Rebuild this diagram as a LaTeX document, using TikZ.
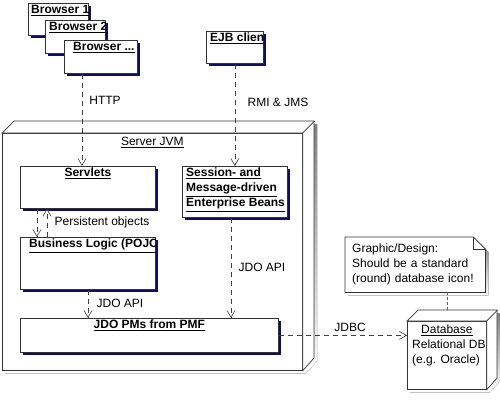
\documentclass[tikz,border=0pt]{standalone}
\usepackage{fontspec}
\setmainfont{Liberation Sans}
\usetikzlibrary{arrows.meta,positioning,shadows,backgrounds}
\definecolor{shade}{RGB}{14,14,104}
\definecolor{notelink}{RGB}{176,40,176}

\begin{document}
\begin{tikzpicture}[
    x=1pt,y=-1pt,font=\fontsize{12}{15}\selectfont,
    object/.style={draw=black!80,line width=.7pt,fill=white,anchor=north west,
        inner sep=0pt,general shadow={fill=shade,shadow xshift=3pt,shadow yshift=-3pt}},
    frame/.style={draw=black!80,line width=.7pt,fill=white,anchor=north west,inner sep=0pt},
    face/.style={draw=black!80,line width=.7pt,fill=white},
    title/.style={font=\fontsize{12}{15}\selectfont\bfseries,inner sep=0pt,anchor=north west},
    plain/.style={inner sep=0pt,anchor=north west,align=left},
    flow/.style={draw=black!75,line width=.6pt,dash pattern=on 5pt off 4pt,
        -{Straight Barb[length=7pt,width=8pt]}},
    flow label/.style={inner sep=0pt,anchor=base},
    note link/.style={draw=notelink,line width=.6pt,dash pattern=on 3pt off 2pt}
]
    \useasboundingbox (0,0) rectangle (500,400);

    % Clients, each title cut off at the right edge of its box.
    \foreach \obj/\x/\y/\w/\h/\tx/\str in {browserA/28/3/60/32/3/Browser 1,
        browserB/45/20/60/33/4/Browser 2,browserC/64/40/73/33/9/Browser .{}.{}.,
        ejb/206/31/57/32/4/EJB client} {
        \node[object,minimum width=\w pt,minimum height=\h pt] (\obj) at (\x,\y) {};
        \begin{scope}
            \clip (\obj.north west) rectangle (\obj.south east);
            \node[title] (\obj title) at ([xshift=\tx pt,yshift=-2pt]\obj.north west) {\underline{\str}};
        \end{scope}
    }

    % Server JVM node.
    \node[frame,minimum width=300pt,minimum height=237pt] (server) at (2,133) {};
    \draw[face] (server.north west) -- ++(12,-12) -- ++(300,0) -- ++(0,237)
        -- (server.south east) -- (server.north east) -- cycle;
    \draw[face] (server.north east) -- ++(12,-12);
    \begin{scope}[on background layer]
        \fill[shade] ([shift={(3pt,-3pt)}]server.south west) -- ([shift={(3pt,-3pt)}]server.north west)
            -- ++(12,-12) -- ++(300,0) -- ++(0,237) -- ([shift={(3pt,-3pt)}]server.south east) -- cycle;
    \end{scope}
    \node[plain,anchor=north] (server title) at ([yshift=-4pt]server.north) {\underline{Server JVM}};

    \node[object,minimum width=135pt,minimum height=42pt] (servlets) at (20,166) {};
    \node[title,anchor=north] (servlets title) at ([yshift=-2pt]servlets.north) {\underline{Servlets}};
    \node[object,minimum width=105pt,minimum height=51pt] (beans) at (182,166) {};
    \node[title,align=left] (beans title) at ([xshift=4pt,yshift=-2pt]beans.north west)
        {\underline{Session- and}\\\underline{Message-driven}\\\underline{Enterprise Beans}};
    \node[object,minimum width=135pt,minimum height=52pt] (logic) at (20,237) {};
    \begin{scope}
        \clip (logic.north west) rectangle (logic.south east);
        \node[title] (logic title) at ([xshift=9pt,yshift=-2pt]logic.north west) {\underline{Business Logic (POJO)}};
    \end{scope}
    \node[object,minimum width=258pt,minimum height=34pt] (pms) at (20,318) {};
    \node[title,anchor=north] (pms title) at ([yshift=-2pt]pms.north) {\underline{JDO PMs from PMF}};

    % Database node.
    \node[frame,minimum width=79pt,minimum height=68pt] (db) at (407,321) {};
    \draw[face] (db.north west) -- ++(11,-11) -- ++(79,0) -- ++(0,68)
        -- (db.south east) -- (db.north east) -- cycle;
    \draw[face] (db.north east) -- ++(11,-11);
    \begin{scope}[on background layer]
        \fill[shade] ([shift={(3pt,-3pt)}]db.south west) -- ([shift={(3pt,-3pt)}]db.north west)
            -- ++(11,-11) -- ++(79,0) -- ++(0,68) -- ([shift={(3pt,-3pt)}]db.south east) -- cycle;
    \end{scope}
    \node[plain,anchor=north] (db title) at ([yshift=-4pt]db.north) {\underline{Database}};
    \begin{scope}
        \clip (db.north west) rectangle (db.south east);
        \node[plain] (db text) at ([xshift=5pt,yshift=-19pt]db.north west) {Relational DB\\(e.g. Oracle)};
    \end{scope}

    % Note.
    \node[plain,minimum width=140pt,minimum height=55pt,text width=126pt,inner xsep=7pt] (note)
        at (345,237) {Graphic/Design:\\Should be a standard\\(round) database icon!};
    \begin{scope}[on background layer]
        \fill[shade] ([shift={(3pt,-3pt)}]note.north west) -- ([shift={(-9pt,-3pt)}]note.north east)
            -- ([shift={(3pt,-15pt)}]note.north east) -- ([shift={(3pt,-3pt)}]note.south east)
            -- ([shift={(3pt,-3pt)}]note.south west) -- cycle;
        \draw[face] (note.north west) -- ([xshift=-12pt]note.north east) -- ([yshift=-12pt]note.north east)
            -- (note.south east) -- (note.south west) -- cycle;
        \draw[face,fill=none] ([xshift=-12pt]note.north east) |- ([yshift=-12pt]note.north east);
    \end{scope}

    % Dependencies.
    \draw[flow] ([xshift=18pt]browserC.south west) -- ([xshift=62pt]servlets.north west);
    \draw[flow] (ejb.south) -- (ejb.south |- beans.north);
    \draw[flow] ([xshift=17pt]servlets.south west) -- ([xshift=17pt]logic.north west);
    \draw[flow] ([xshift=27pt]logic.north west) -- ([xshift=27pt]servlets.south west);
    \draw[flow] ([xshift=68pt]logic.south west) -- ([xshift=68pt]pms.north west);
    \draw[flow] ([xshift=49pt]beans.south west) -- ([xshift=211pt]pms.north west);
    \draw[flow] (pms.east) -- (pms.east -| db.west);
    \draw[note link] ([xshift=102pt]note.south west) -- ([xshift=40pt,yshift=11pt]db.north west);

    \node[flow label] (http) at (105,104) {HTTP};
    \node[flow label] (rmi) at (278,106) {RMI \& JMS};
    \node[flow label] (persist) at (102,225) {Persistent objects};
    \node[flow label] (api upper) at (262,271) {JDO API};
    \node[flow label] (api lower) at (120,307) {JDO API};
    \node[flow label] (jdbc) at (350,331) {JDBC};
\end{tikzpicture}
\end{document}
